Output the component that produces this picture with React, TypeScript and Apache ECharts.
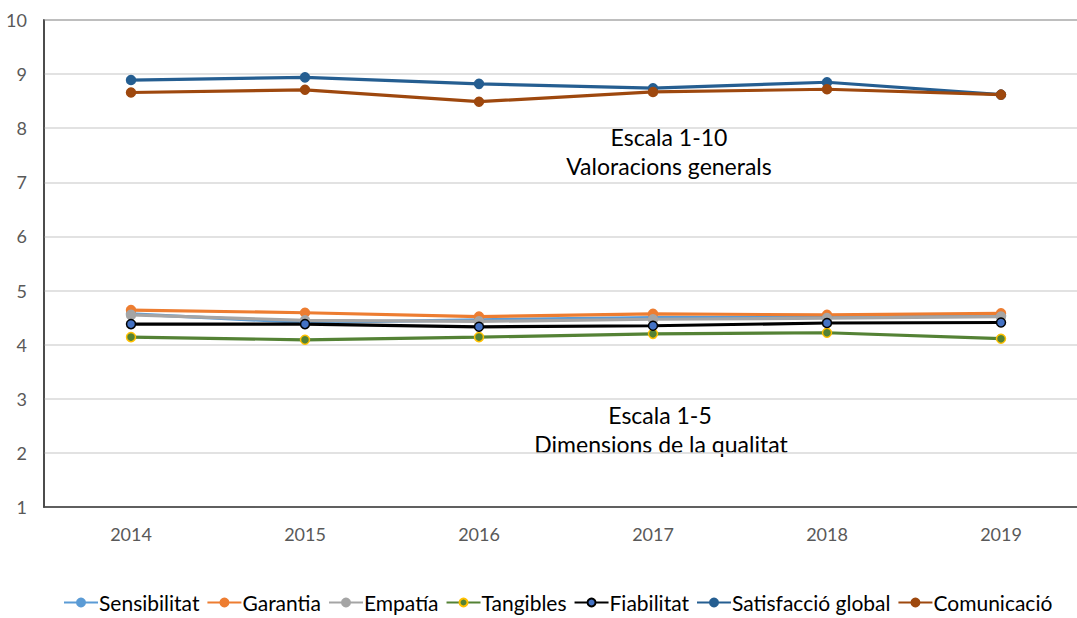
import React, { useEffect, useRef } from "react";
import * as echarts from "echarts";

const years = ["2014", "2015", "2016", "2017", "2018", "2019"];
const sensibilitat = [4.57, 4.41, 4.46, 4.5, 4.51, 4.54];
const garantia = [4.64, 4.59, 4.52, 4.57, 4.55, 4.58];
const empatia = [4.55, 4.45, 4.43, 4.47, 4.49, 4.52];
const tangibles = [4.14, 4.09, 4.14, 4.2, 4.22, 4.11];
const fiabilitat = [4.38, 4.38, 4.33, 4.35, 4.4, 4.41];
const satisfaccio = [8.89, 8.94, 8.82, 8.74, 8.85, 8.62];
const comunicacio = [8.66, 8.71, 8.49, 8.67, 8.72, 8.62];

const FONT = "Lato";

export default function App() {
  const ref = useRef<HTMLDivElement>(null);
  useEffect(() => {
    const chart = echarts.init(ref.current!, null, { renderer: "svg" });
    const mk = (name: string, data: number[], color: string, symColor: string, symBorder: string) => ({
      name,
      type: "line",
      data,
      symbol: "circle",
      symbolSize: 9,
      lineStyle: { color, width: 3.2 },
      itemStyle: { color: symColor, borderColor: symBorder, borderWidth: 1.5 },
      emphasis: { disabled: true },
    });
    const txt = (x: number, y: number, text: string) => ({
      type: "text",
      x,
      y,
      style: { text, fontSize: 23, fontFamily: FONT, fill: "#000", textAlign: "center", textVerticalAlign: "middle" },
    });
    chart.setOption({
      animation: false,
      color: ["#5B9BD5", "#ED7D31", "#A5A5A5", "#548235", "#000000", "#255E91", "#9E480E"],
      grid: {
        left: 44,
        top: 20,
        width: 1044,
        height: 487,
        show: true,
        borderColor: "#404040",
        borderWidth: 1.5,
      },
      xAxis: {
        type: "category",
        data: years,
        boundaryGap: true,
        axisLine: { lineStyle: { color: "#404040", width: 1.5 } },
        axisTick: { show: false },
        axisLabel: { color: "#595959", fontSize: 18, fontFamily: FONT, margin: 18 },
      },
      yAxis: {
        type: "value",
        min: 1,
        max: 10,
        interval: 1,
        axisLine: { show: true, lineStyle: { color: "#404040", width: 1.5 } },
        axisTick: { show: false },
        splitLine: { lineStyle: { color: "#D9D9D9", width: 1.5 } },
        axisLabel: { color: "#595959", fontSize: 18, fontFamily: FONT, margin: 17 },
      },
      legend: {
        bottom: 0,
        left: 58,
        width: 1030,
        itemWidth: 34,
        itemHeight: 10,
        itemGap: 7,
        textStyle: { fontSize: 21, fontFamily: FONT, color: "#000", padding: [0, 0, 0, -4] },
        data: ["Sensibilitat", "Garantia", "Empatía", "Tangibles", "Fiabilitat", "Satisfacció global", "Comunicació"],
      },
      graphic: [
        txt(669, 137, "Escala 1-10"),
        txt(669, 166, "Valoracions generals"),
        txt(660, 415, "Escala 1-5"),
        txt(661, 444, "Dimensions de la qualitat"),
      ],
      series: [
        mk("Sensibilitat", sensibilitat, "#5B9BD5", "#5B9BD5", "#5B9BD5"),
        mk("Garantia", garantia, "#ED7D31", "#ED7D31", "#ED7D31"),
        mk("Empatía", empatia, "#A5A5A5", "#A5A5A5", "#A5A5A5"),
        mk("Tangibles", tangibles, "#548235", "#548235", "#FFC000"),
        mk("Fiabilitat", fiabilitat, "#000000", "#4472C4", "#000000"),
        mk("Satisfacció global", satisfaccio, "#255E91", "#255E91", "#255E91"),
        mk("Comunicació", comunicacio, "#9E480E", "#9E480E", "#9E480E"),
      ],
    });
    return () => chart.dispose();
  }, []);
  return (
    <div
      ref={ref}
      style={{ position: "fixed", left: 0, top: 0, width: 1100, height: 618, background: "#fff" }}
    />
  );
}
